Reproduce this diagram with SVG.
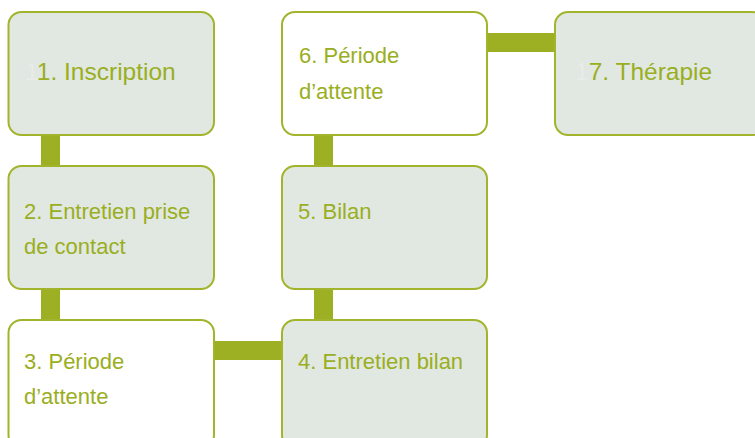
<svg xmlns="http://www.w3.org/2000/svg" width="755" height="438" viewBox="0 0 755 438">
<style>
.box{stroke:#A2B42C;stroke-width:2}
.g{fill:#E1E8E1}
.w{fill:#FFFFFF}
.bar{fill:#9DAF22}
text{font-family:"Liberation Sans",Arial,sans-serif;fill:#9AAE22}
.big{font-size:24.5px}
.sm{font-size:22px}
.ghost{fill:#E8ECE8}
</style>
<rect width="755" height="438" fill="#FFFFFF"/>
<g id="connectors">
<rect class="bar" x="41" y="134" width="19" height="33"/>
<rect class="bar" x="41" y="288" width="19" height="33"/>
<rect class="bar" x="213" y="341" width="70" height="19"/>
<rect class="bar" x="314" y="288" width="19" height="33"/>
<rect class="bar" x="314" y="134" width="19" height="33"/>
<rect class="bar" x="486" y="33" width="69" height="19"/>
</g>
<g id="node1">
<rect class="box g" x="8.5" y="12" width="205.5" height="123" rx="13"/>
<text class="big" x="25" y="80"><tspan class="ghost">1</tspan><tspan>1. Inscription</tspan></text>
</g>
<g id="node2">
<rect class="box g" x="8.5" y="166" width="205.5" height="123" rx="13"/>
<text class="sm" x="24" y="219">2. Entretien prise</text>
<text class="sm" x="24" y="254">de contact</text>
</g>
<g id="node3">
<rect class="box w" x="8.5" y="320" width="205.5" height="128" rx="13"/>
<text class="sm" x="24" y="369">3. Période</text>
<text class="sm" x="24" y="404">d’attente</text>
</g>
<g id="node4">
<rect class="box g" x="282" y="320" width="205" height="128" rx="13"/>
<text class="sm" x="298" y="369">4. Entretien bilan</text>
</g>
<g id="node5">
<rect class="box g" x="282" y="166" width="205" height="123" rx="13"/>
<text class="sm" x="298" y="219">5. Bilan</text>
</g>
<g id="node6">
<rect class="box w" x="282" y="12" width="205" height="123" rx="13"/>
<text class="sm" x="299" y="63">6. Période</text>
<text class="sm" x="299" y="99">d’attente</text>
</g>
<g id="node7">
<rect class="box g" x="555" y="12" width="210" height="123" rx="13"/>
<text class="big" x="575" y="80"><tspan class="ghost">1</tspan><tspan>7. Thérapie</tspan></text>
</g>
</svg>
